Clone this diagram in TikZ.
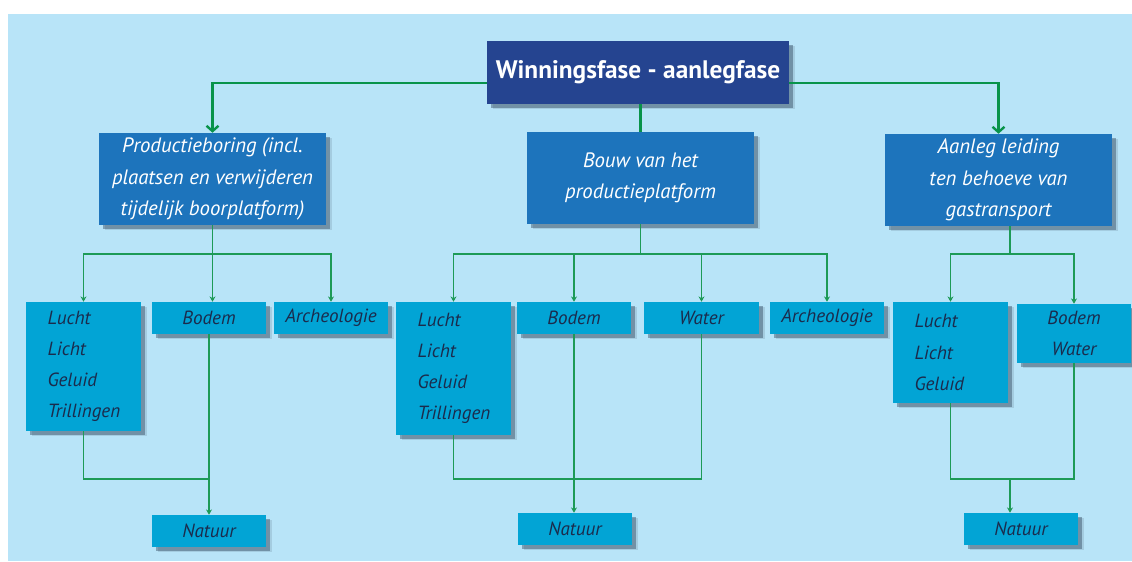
\documentclass[tikz,border=0pt]{standalone}
\usepackage{fontspec}
\setmainfont{PT Sans}
\usetikzlibrary{arrows.meta,shadows}
\definecolor{bg}{HTML}{B8E4F8}
\definecolor{topblue}{HTML}{254490}
\definecolor{midblue}{HTML}{1D74BC}
\definecolor{cyanbox}{HTML}{02A4D5}
\definecolor{navytext}{HTML}{1B2B4C}
\definecolor{greenA}{HTML}{08934A}
\definecolor{greenB}{HTML}{1D9A57}
\definecolor{shade}{HTML}{14243A}
\begin{document}
\begin{tikzpicture}[x=0.75pt,y=-0.75pt,
  box/.style={inner sep=0pt, draw=none, anchor=center,
    drop shadow={shadow xshift=4.5pt, shadow yshift=-4pt, opacity=0.12, fill=shade},
    drop shadow={shadow xshift=3pt, shadow yshift=-2.8pt, opacity=0.35, fill=shade}},
  sz/.style 2 args={minimum width={#1*0.75pt}, minimum height={#2*0.75pt}},
  topbox/.style={box, fill=topblue, text=white, font=\bfseries\fontsize{19}{22}\selectfont},
  midbox/.style={box, fill=midblue, text=white, align=center, sz={227}{92},
    font=\itshape\fontsize{15.6}{23.6}\selectfont},
  subbox/.style={box, fill=cyanbox, text=navytext, align=center,
    font=\itshape\fontsize{14.3}{23.3}\selectfont},
  listbox/.style={subbox, align=left, text width=54pt},
  topline/.style={draw=greenA, line width=2.2pt},
  lowline/.style={draw=greenB, line width=1.4pt},
  bigtip/.style={-{Straight Barb[length=4pt,width=9pt,line width=1.8pt]}},
  smalltip/.style={-{Stealth[length=4pt,width=4.5pt]}}
]
\useasboundingbox (0,0) rectangle (1132,561);
\fill[bg] (8,14) rectangle (1132,561);

% level 0
\node[topbox, sz={302}{63}] (top) at (638,72.5) {Winningsfase - aanlegfase};
% level 1
\node[midbox] (prod) at (212.5,179) {Productieboring (incl.\\plaatsen en verwijderen\\tijdelijk boorplatform)};
\node[midbox] (bouw) at (640.5,178) {Bouw van het\\productieplatform};
\node[midbox] (aan) at (998.5,180) {Aanleg leiding\\ten behoeve van\\gastransport};
% level 2, group 1
\node[listbox, sz={115}{129}] (luchtA) at (83.5,366.5) {Lucht\\Licht\\Geluid\\Trillingen};
\node[subbox, sz={114}{32}] (bodemA) at (209,318) {Bodem};
\node[subbox, sz={114}{32}] (archA) at (331,318) {Archeologie};
% level 2, group 2
\node[listbox, sz={115}{133}] (luchtB) at (453.5,368.5) {Lucht\\Licht\\Geluid\\Trillingen};
\node[subbox, sz={114}{32}] (bodemB) at (574,318) {Bodem};
\node[subbox, sz={115}{32}] (waterB) at (701.5,318) {Water};
\node[subbox, sz={114}{32}] (archB) at (827,318) {Archeologie};
% level 2, group 3
\node[listbox, sz={115}{101}] (luchtC) at (950.5,352.5) {Lucht\\Licht\\Geluid};
\node[subbox, sz={114}{59}] (bwC) at (1074,333.5) {Bodem\\Water};
% level 3
\node[subbox, sz={114}{32}] (natA) at (209,531) {Natuur};
\node[subbox, sz={114}{32}] (natB) at (575,529) {Natuur};
\node[subbox, sz={114}{32}] (natC) at (1021,529) {Natuur};

% connectors from top
\draw[topline, bigtip] (top.west |- 0,83) -| (prod.north);
\draw[topline, bigtip] (top.east |- 0,83) -| (aan.north);
\draw[topline] (top.south -| bouw.north) -- (bouw.north);

% group 1
\coordinate (jA) at (prod.south |- 0,254);
\draw[lowline] (prod.south) -- (jA);
\draw[lowline, smalltip] (jA) -| (luchtA.north);
\draw[lowline, smalltip] (jA) -| (archA.north);
\draw[lowline, smalltip] (jA) -- (jA |- bodemA.north);
\draw[lowline] (luchtA.south) |- (bodemA.south |- 0,479);
\draw[lowline, smalltip] (bodemA.south) -- (bodemA.south |- natA.north);

% group 2
\coordinate (jB) at (bouw.south |- 0,254);
\draw[lowline] (bouw.south) -- (jB);
\draw[lowline, smalltip] (jB) -| (luchtB.north);
\draw[lowline, smalltip] (jB) -| (archB.north);
\draw[lowline, smalltip] (bodemB.north |- jB) -- (bodemB.north);
\draw[lowline, smalltip] (waterB.north |- jB) -- (waterB.north);
\draw[lowline] (luchtB.south) |- (waterB.south |- 0,479) -- (waterB.south);
\draw[lowline, smalltip] (bodemB.south) -- (bodemB.south |- natB.north);

% group 3
\coordinate (jC) at (1010,254);
\draw[lowline] (aan.south -| jC) -- (jC);
\draw[lowline, smalltip] (jC) -| (luchtC.north);
\draw[lowline, smalltip] (jC) -| (bwC.north);
\coordinate (kC) at (1010,479);
\draw[lowline] (luchtC.south) |- (bwC.south |- kC) -- (bwC.south);
\draw[lowline, smalltip] (kC) -- (kC |- natC.north);
\end{tikzpicture}
\end{document}
